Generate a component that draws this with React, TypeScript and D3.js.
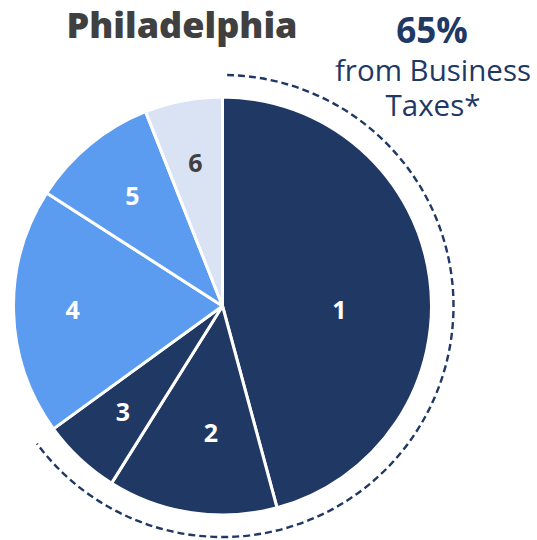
import React from "react";
import * as d3 from "d3";

const categories = ["1", "2", "3", "4", "5", "6"];
const values = [45.8, 13.1, 6.1, 19.1, 9.9, 6.0];
const sliceColors = ["#203864", "#203864", "#203864", "#5b9cf0", "#5b9cf0", "#dae3f3"];
const labelColors = ["#ffffff", "#ffffff", "#ffffff", "#ffffff", "#ffffff", "#404040"];
const labelRadius = [117, 128, 146, 150, 142, 145];
const labelAngleShift = [9.6, -3.2, 0, 0, 0, 0];
const businessShare = 65;
const title = "Philadelphia";
const calloutLines = ["from Business", "Taxes*"];

export default function App() {
  const W = 537, H = 540;
  const cx = 222.5, cy = 306, r = 209;
  const data = categories.map((c, i) => ({ c, v: values[i], i }));
  const pie = d3.pie<any>().sort(null).value((d) => d.v);
  const arcs = pie(data);
  const arc = d3.arc<any>().innerRadius(0).outerRadius(r);
  const businessEnd = arcs[2].endAngle;
  const dashR = 231;
  const p = d3.path();
  const a0 = 0.02 - Math.PI / 2;
  const a1 = businessEnd - 0.01 - Math.PI / 2;
  p.moveTo(Math.cos(a0) * dashR, Math.sin(a0) * dashR);
  p.arc(0, 0, dashR, a0, a1, false);
  return (
    <svg width={W} height={H} style={{ position: "absolute", left: 0, top: 0 }} fontFamily="'Open Sans', sans-serif">
      <text x={182} y={38} textAnchor="middle" fontSize={36} fontWeight={800} fill="#404040">{title}</text>
      <text x={432} y={43} textAnchor="middle" fontSize={35} fontWeight={700} fill="#203864">{businessShare}%</text>
      {calloutLines.map((t, i) => (
        <text key={i} x={433} y={81 + i * 35} textAnchor="middle" fontSize={29.5} fill="#203864">{t}</text>
      ))}
      <g transform={`translate(${cx},${cy})`}>
        <path d={p.toString()} fill="none" stroke="#203864" strokeWidth={2.4} strokeDasharray="7 4" />
        {arcs.map((a, i) => (
          <path key={i} d={arc(a) || ""} fill={sliceColors[i]} stroke="#ffffff" strokeWidth={3} strokeLinejoin="round" />
        ))}
        {arcs.map((a, i) => {
          const m = (a.startAngle + a.endAngle) / 2 + (labelAngleShift[i] * Math.PI) / 180;
          const lr = labelRadius[i];
          return (
            <text key={i} x={Math.sin(m) * lr} y={-Math.cos(m) * lr} dy="0.35em" textAnchor="middle"
              fontSize={25} fontWeight={700} fill={labelColors[i]}>{categories[i]}</text>
          );
        })}
      </g>
    </svg>
  );
}
